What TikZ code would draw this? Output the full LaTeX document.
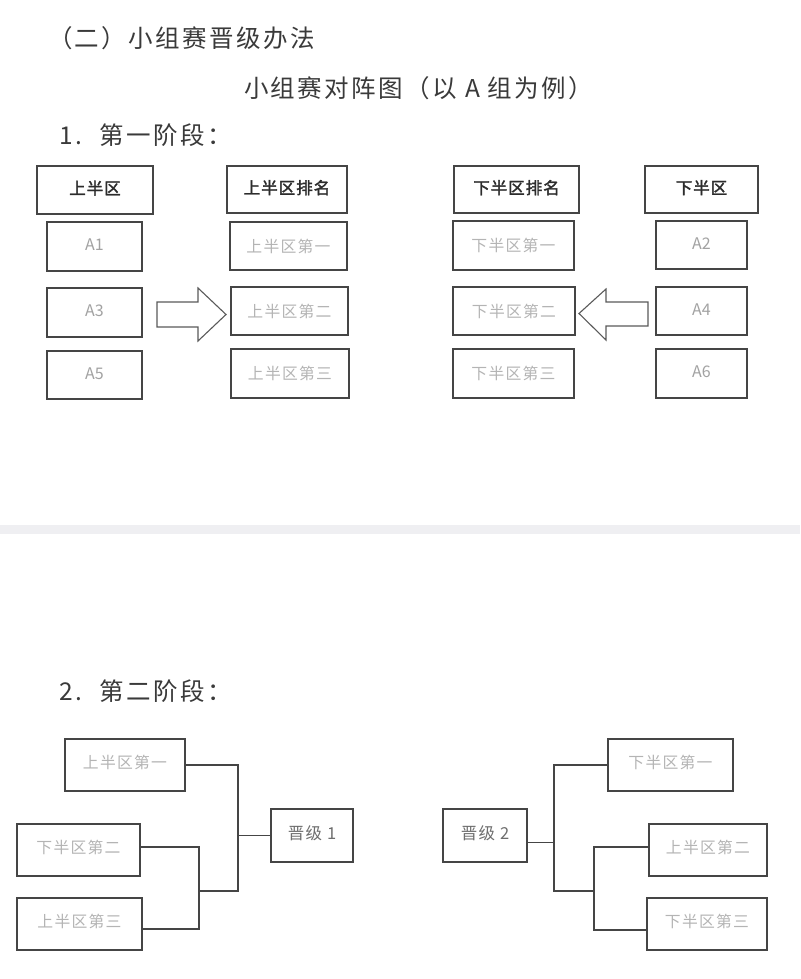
\documentclass[tikz,border=0pt]{standalone}
\usepackage{fontspec}
\setmainfont{Noto Sans CJK SC}
\newfontfamily\cjkreg[LetterSpace=8]{Noto Sans CJK SC}
\newfontfamily\cjktitle[LetterSpace=10]{Noto Sans CJK SC}
\newfontfamily\cjkbold[FakeBold=2,LetterSpace=6]{Noto Sans CJK SC}
\usetikzlibrary{calc}
\definecolor{linec}{HTML}{454545}
\definecolor{titlec}{HTML}{3A3A3A}
\definecolor{hdrc}{HTML}{2C2C2C}
\definecolor{lightc}{HTML}{B4B4B4}
\definecolor{ac}{HTML}{A2A2A2}
\definecolor{jjc}{HTML}{6E6E6E}
\definecolor{bandc}{HTML}{EFEFF2}
\definecolor{arrowc}{HTML}{5A5A5A}
\begin{document}
\begin{tikzpicture}[x=1pt,y=-1pt,
  every node/.style={inner sep=0pt, outer sep=0pt},
  title/.style={anchor=west, text=titlec, font=\cjktitle\fontsize{24.5}{27}\selectfont},
  bx/.style={draw=linec, line width=1.3pt, fill=white},
  hdr/.style={bx, text=hdrc, font=\cjkbold\fontsize{16.5}{18}\selectfont},
  rank/.style={bx, text=lightc, font=\cjkreg\fontsize{15.8}{18}\selectfont},
  team/.style={bx, text=ac, font=\fontsize{16}{18}\selectfont},
  prom/.style={bx, text=jjc, font=\cjkreg\fontsize{16.5}{18}\selectfont},
  conn/.style={draw=linec, line width=1.2pt},
  blockarrow/.style={draw=arrowc, line width=1.1pt, fill=white, line join=miter}
]
\useasboundingbox[fill=white] (0,0) rectangle (800,979);
\fill[bandc] (0,525) rectangle (800,534);

% titles
\node[title] (t1) at (48,38) {（二）小组赛晋级办法};
\node[title] (t2) at (244,88) {小组赛对阵图（以 A 组为例）};
\node[title] (t3) at (59,135) {1.\hspace{18pt}第一阶段：};
\node[title] (t4) at (59,691) {2.\hspace{18pt}第二阶段：};

% stage 1 -- upper half
\node[hdr, minimum width=116, minimum height=48] (h1) at (95,190) {\raisebox{5pt}{上半区}};
\node[team, minimum width=95, minimum height=49] (a1) at (94.5,246.5) {\raisebox{3pt}{A1}};
\node[team, minimum width=95, minimum height=49] (a3) at (94.5,312.5) {\raisebox{3pt}{A3}};
\node[team, minimum width=95, minimum height=48] (a5) at (94.5,375) {\raisebox{3pt}{A5}};

\node[hdr, minimum width=120, minimum height=47] (h2) at (287,189.5) {\raisebox{5pt}{上半区排名}};
\node[rank, minimum width=117, minimum height=48] (u1) at (288.5,246) {\raisebox{1pt}{上半区第一}};
\node[rank, minimum width=117, minimum height=48] (u2) at (289.5,311) {\raisebox{1pt}{上半区第二}};
\node[rank, minimum width=118, minimum height=49] (u3) at (290,373.5) {\raisebox{1pt}{上半区第三}};

% stage 1 -- lower half
\node[hdr, minimum width=125, minimum height=47] (h3) at (516.5,189.5) {\raisebox{5pt}{下半区排名}};
\node[rank, minimum width=121, minimum height=49] (d1) at (513.5,245.5) {\raisebox{1pt}{下半区第一}};
\node[rank, minimum width=122, minimum height=48] (d2) at (514,311) {\raisebox{1pt}{下半区第二}};
\node[rank, minimum width=121, minimum height=49] (d3) at (513.5,373.5) {\raisebox{1pt}{下半区第三}};

\node[hdr, minimum width=113, minimum height=47] (h4) at (701.5,189.5) {\raisebox{5pt}{下半区}};
\node[team, minimum width=91, minimum height=48] (a2) at (701.5,245) {\raisebox{3pt}{A2}};
\node[team, minimum width=91, minimum height=48] (a4) at (701.5,311) {\raisebox{3pt}{A4}};
\node[team, minimum width=91, minimum height=49] (a6) at (701.5,373.5) {\raisebox{3pt}{A6}};

% block arrows
\draw[blockarrow] (157,302) -- (198,302) -- (198,288) -- (226,314.5) -- (198,341) -- (198,327) -- (157,327) -- cycle;
\draw[blockarrow] (648,302) -- (606,302) -- (606,289) -- (579,313.5) -- (606,340) -- (606,326) -- (648,326) -- cycle;

% stage 2 -- left bracket
\node[rank, minimum width=120, minimum height=52] (s1) at (125,765) {\raisebox{6pt}{上半区第一}};
\node[rank, minimum width=123, minimum height=52] (s2) at (78.5,850) {\raisebox{6pt}{下半区第二}};
\node[rank, minimum width=125, minimum height=52] (s3) at (79.5,924) {\raisebox{6pt}{上半区第三}};
\node[prom, minimum width=82, minimum height=53] (j1) at (312,835.5) {\raisebox{6pt}{晋级 1}};

\coordinate (lo) at (238,891);
\coordinate (li) at (199,891);
\coordinate (liTop) at (199,847);
\coordinate (s2e) at ($(s2.east)+(0,-3)$);
\coordinate (s3e) at ($(s3.east)+(0,5)$);
\draw[conn] (s1.east) -| (lo) -- (li);
\draw[conn] (s2e) -| (liTop) |- (s3e);
\draw[conn] (j1.west) -- (j1.west -| lo);

% stage 2 -- right bracket
\node[prom, minimum width=84, minimum height=53] (j2) at (485,835.5) {\raisebox{6pt}{晋级 2}};
\node[rank, minimum width=125, minimum height=52] (r1) at (670.5,765) {\raisebox{6pt}{下半区第一}};
\node[rank, minimum width=118, minimum height=52] (r2) at (708,850) {\raisebox{6pt}{上半区第二}};
\node[rank, minimum width=120, minimum height=52] (r3) at (707,924) {\raisebox{6pt}{下半区第三}};

\coordinate (ro) at (554,891);
\coordinate (ri) at (594,891);
\coordinate (riTop) at (594,847);
\coordinate (r2w) at ($(r2.west)+(0,-3)$);
\coordinate (r3w) at ($(r3.west)+(0,6)$);
\coordinate (j2e) at ($(j2.east)+(0,7)$);
\draw[conn] (r1.west) -| (ro) -- (ri);
\draw[conn] (r2w) -| (riTop) |- (r3w);
\draw[conn] (j2e) -- (j2e -| ro);
\end{tikzpicture}
\end{document}
